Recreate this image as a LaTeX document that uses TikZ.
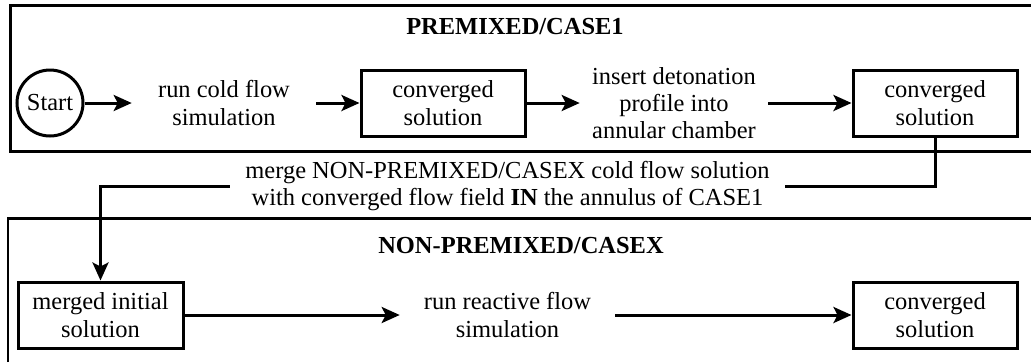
\documentclass[tikz,border=0pt]{standalone}
\usepackage{fontspec}
\setmainfont{Liberation Serif}
\usetikzlibrary{positioning, arrows.meta, calc}
\newcommand{\flowfont}{\fontsize{17.4}{19.4}\selectfont}
\tikzset{
  flowline/.style={line width=0.075cm},
  flowbox/.style={draw, flowline, minimum width=4.1cm, minimum height=1.65cm,
                  inner sep=0pt, align=center},
  flowtext/.style={inner sep=0pt, align=center},
  flowarrow/.style={flowline, -{Stealth[length=0.45cm, width=0.4cm, inset=0.1cm]}},
  casetitle/.style={font=\flowfont\bfseries},
}

\begin{document}
\begin{tikzpicture}[font=\flowfont]
    \useasboundingbox (0,0) rectangle (25.775,-9.05);
    % the two case frames, open on the right
    \draw[flowline] (25.775,-0.125) -- (0.25,-0.125) -- (0.25,-3.775) -- (25.775,-3.775);
    \draw[flowline] (0.2,-9.05) -- (0.2,-5.45) -- (25.775,-5.45);
    \node[casetitle] (premixed) at (12.875,-0.675) {PREMIXED/CASE1};
    \node[casetitle] (nonpremixed) at (13.025,-6.15) {NON-PREMIXED/CASEX};

    % premixed row
    \node[draw, circle, flowline, minimum size=1.65cm, inner sep=0pt] (start) at (1.25,-2.575) {Start};
    \node[flowtext, minimum width=4.6cm] (runcold) at (5.6,-2.575) {run cold flow\\simulation};
    \node[flowbox] (convA) at (11.075,-2.575) {converged\\solution};
    \node[flowtext, minimum width=4.7cm] (insert) at (16.85,-2.575) {insert detonation\\profile into\\annular chamber};
    \node[flowbox] (convB) at (23.375,-2.575) {converged\\solution};

    % merge step between the cases
    \node[flowtext, minimum width=13.875cm] (merge) at (12.6875,-4.65)
         {merge NON-PREMIXED/CASEX cold flow solution\\with converged flow field \textbf{IN} the annulus of CASE1};

    % non-premixed row
    \node[flowbox, minimum width=4.125cm] (merged) at (2.5125,-7.875) {merged initial\\solution};
    \node[flowtext, minimum width=5.375cm] (runreact) at (12.6875,-7.875) {run reactive flow\\simulation};
    \node[flowbox] (convC) at (23.375,-7.875) {converged\\solution};

    \draw[flowarrow] (start.east) -- (runcold.west);
    \draw[flowarrow] (runcold.east) -- (convA.west);
    \draw[flowarrow] (convA.east) -- (insert.west);
    \draw[flowarrow] (insert.east) -- (convB.west);
    \draw[flowline] (convB.south) |- (merge.east);
    \draw[flowarrow] (merge.west) -| (merged.north);
    \draw[flowarrow] (merged.east) -- (runreact.west);
    \draw[flowarrow] (runreact.east) -- (convC.west);
\end{tikzpicture}
\end{document}
